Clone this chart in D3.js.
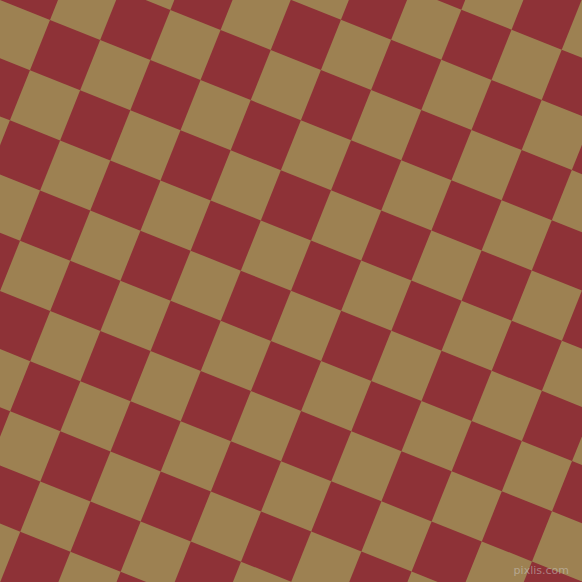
<!DOCTYPE html>
<html>
<head>
<meta charset="utf-8">
<script src="https://cdn.jsdelivr.net/npm/d3@7"></script>
<style>
html,body{margin:0;padding:0;background:#9D8152;}
svg{display:block;}
</style>
</head>
<body>
<svg id="chart" width="582" height="582"></svg>
<script>
// pattern data
const colors = ["#8E3237", "#9D8152"];      // red, tan
const cellVector = [50.18, 20.03];          // one cell edge, in px (dx, dy)
const originPoint = [50, 20];               // a lattice corner
const colIndex = d3.range(-6, 16);
const rowIndex = d3.range(-6, 16);
const watermark = ["pixlis.com"];

const W = 582, H = 582;
const side = Math.hypot(cellVector[0], cellVector[1]);
const angle = Math.atan2(cellVector[1], cellVector[0]) * 180 / Math.PI;

const svg = d3.select("#chart");
svg.append("rect").attr("width", W).attr("height", H).attr("fill", colors[1]);

const u = d3.scaleLinear().domain([0, 1]).range([0, side]);
const v = d3.scaleLinear().domain([0, 1]).range([0, side]);

const cells = [];
colIndex.forEach(i => rowIndex.forEach(j => cells.push({i, j})));

const g = svg.append("g")
  .attr("transform", `translate(${originPoint[0]},${originPoint[1]}) rotate(${angle})`);

g.selectAll("rect.cell")
  .data(cells.filter(d => ((d.i + d.j) % 2 + 2) % 2 === 0))
  .join("rect")
  .attr("class", "cell")
  .attr("x", d => u(d.i))
  .attr("y", d => v(d.j))
  .attr("width", u(1) - u(0))
  .attr("height", v(1) - v(0))
  .attr("fill", colors[0]);

svg.selectAll("text.wm")
  .data(watermark)
  .join("text")
  .attr("class", "wm")
  .attr("x", 569)
  .attr("y", 574)
  .attr("text-anchor", "end")
  .attr("font-family", "DejaVu Sans, sans-serif")
  .attr("font-size", 11)
  .attr("fill", "rgba(205,205,205,0.5)")
  .text(d => d);
</script>
</body>
</html>
